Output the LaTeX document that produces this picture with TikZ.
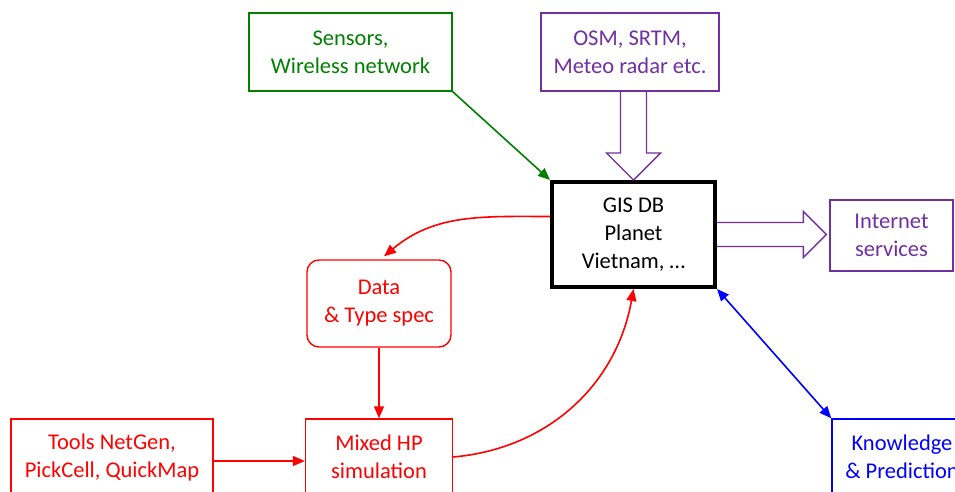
\documentclass[tikz,border=0pt]{standalone}
\usepackage{fontspec}
\setmainfont{Carlito}
\usetikzlibrary{arrows.meta,calc}

\definecolor{sensgreen}{RGB}{0,128,0}
\definecolor{srcpurple}{RGB}{112,48,160}
\definecolor{simred}{RGB}{255,0,0}
\definecolor{knowblue}{RGB}{0,0,255}

\begin{document}
\begin{tikzpicture}[
  x=1pt, y=-1pt,
  bx/.style={draw, rectangle, align=center, inner sep=2pt, line width=1.4pt,
    font=\fontsize{22.5}{28}\selectfont},
  hollow/.style={draw=srcpurple, line width=1.4pt, line join=miter},
  >={Triangle[length=12pt,width=10pt]}, line width=1.6pt
]
  \useasboundingbox (0,0) rectangle (955,492);

  \node[bx, sensgreen, minimum width=203pt, minimum height=78pt]   (sens) at (350.5,52)  {Sensors,\\Wireless network};
  \node[bx, srcpurple, minimum width=178pt, minimum height=78pt]   (osm) at (630,52)     {OSM, SRTM,\\Meteo radar etc.};
  \node[bx, black, line width=4pt, minimum width=163pt, minimum height=105pt] (gis) at (633.5,234.5) {GIS DB\\Planet\\Vietnam, \dots};
  \node[bx, srcpurple, minimum width=123pt, minimum height=71pt]   (inet) at (891.5,235.5) {Internet\\services};
  \node[bx, simred, rounded corners=12pt, minimum width=144pt, minimum height=87pt] (data) at (379,303.5) {Data\\\& Type spec};
  \node[bx, simred, minimum width=147pt, minimum height=76pt]      (mixed) at (379,457)  {Mixed HP\\simulation};
  \node[bx, simred, minimum width=202pt, minimum height=76pt]      (tools) at (112,457)  {Tools NetGen,\\PickCell, QuickMap};
  \node[bx, knowblue, minimum width=140pt, minimum height=76pt]    (know) at (902,457)   {Knowledge\\\& Prediction};

  % hollow arrows
  \coordinate (dtop) at (osm.south -| gis.north);
  \draw[hollow] ($(dtop)+(-13,0)$) -- ($(gis.north)+(-13,-27)$) -- ($(gis.north)+(-27,-27)$)
    -- (gis.north) -- ($(gis.north)+(27,-27)$) -- ($(gis.north)+(13,-27)$) -- ($(dtop)+(13,0)$);
  \coordinate (itip) at ($(gis.east -| inet.west)+(-3,0)$);
  \draw[hollow] ($(gis.east)+(0,-12)$) -- ($(itip)+(-23,-12)$) -- ($(itip)+(-23,-23)$)
    -- (itip) -- ($(itip)+(-23,23)$) -- ($(itip)+(-23,12)$) -- ($(gis.east)+(0,12)$);

  \draw[->, sensgreen] (sens.south east) -- (gis.north west);
  \draw[<->, knowblue] (gis.south east) -- (know.north west);
  \draw[->, simred] ($(gis.west)+(0,-18)$) to[out=180,in=40] ($(data.north)+(5,-3)$);
  \draw[->, simred] (data.south) -- (mixed.north);
  \draw[->, simred] ($(tools.east)+(0,4)$) -- ($(mixed.west)+(0,4)$);
  \draw[->, simred] (mixed.east) to[out=5,in=-100] (gis.south);
\end{tikzpicture}
\end{document}
